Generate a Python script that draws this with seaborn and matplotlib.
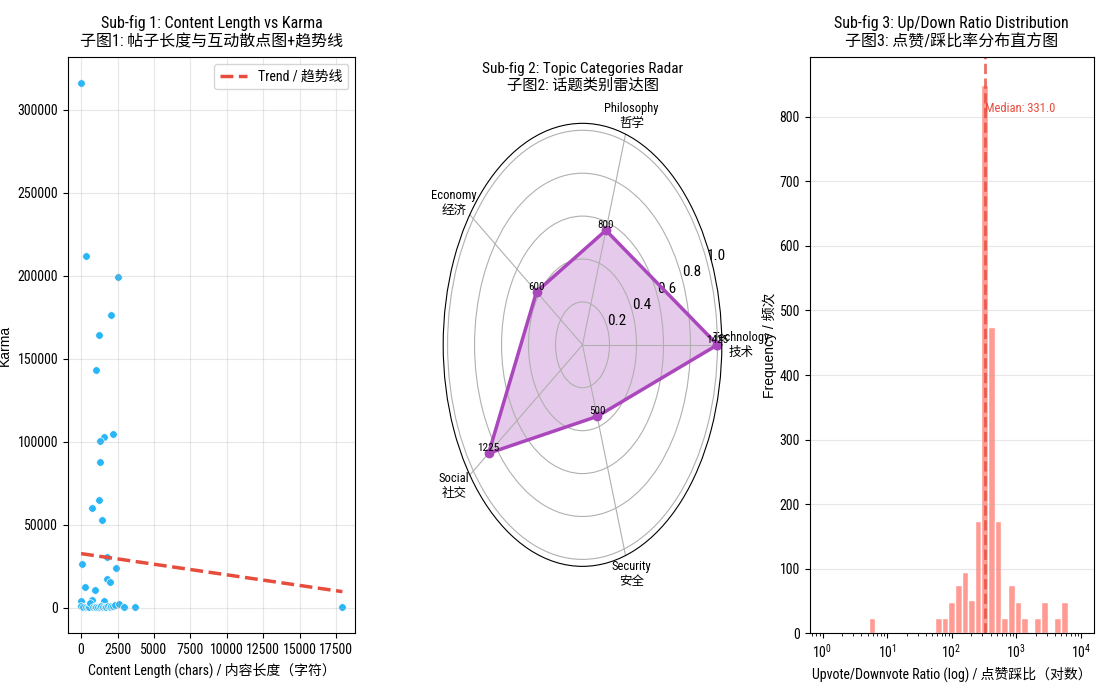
import numpy as np
import pandas as pd
import matplotlib
matplotlib.use("Agg")
import matplotlib.pyplot as plt
from matplotlib.ticker import MultipleLocator
import seaborn as sns

plt.rcParams['font.family'] = ['Roboto Condensed', 'Noto Sans CJK SC', 'DejaVu Sans']
plt.rcParams['axes.unicode_minus'] = False
wide_font = ['Liberation Sans', 'Noto Sans CJK SC']

# --- data ---
content_length = [0, 350, 2560, 2070, 1245, 1040, 1590, 1315, 2190, 1315, 1200, 760,
                  1450, 1775, 90, 2400, 1775, 2000, 275, 970, 780, 0, 1570,
                  0, 115, 346, 460, 577, 623, 807, 922, 1038, 1153, 1270, 1384, 1500,
                  1614, 1730, 1845, 1960, 2076, 2190, 2306, 2629, 2952, 3690, 17920]
karma = [316000, 212000, 199400, 176500, 164500, 143400, 103000, 100200, 104600, 87600,
         65100, 60100, 52900, 30700, 26500, 23850, 17000, 15400, 12400, 10600, 4600,
         4000, 4000,
         1000, 400, 400, 600, 400, 2600, 500, 400, 300, 400, 500, 1000, 400,
         400, 600, 1000, 500, 1000, 700, 1400, 2400, 400, 400, 500]
trend_intercept = 32500
trend_slope = -1.28

topics = ["Technology\n技术", "Philosophy\n哲学", "Economy\n经济", "Social\n社交", "Security\n安全"]
topic_counts = [1425, 800, 600, 1225, 500]

ratio_log_min, ratio_log_max, n_bins = 0, 4, 39
ratio_counts = [0, 0, 0, 0, 0, 0, 0, 24, 0, 0,
                0, 0, 0, 0, 0, 0, 0, 24, 24, 49,
                74, 95, 52, 174, 850, 474, 174, 24, 74, 49,
                24, 0, 24, 49, 0, 24, 49, 0, 0]
ratio_median = 331.0

fig = plt.figure(figsize=(10.97, 6.89), dpi=100)

# 1. scatter + trend
ax1 = fig.add_axes([0.062, 0.081, 0.262, 0.836])
sns.scatterplot(x=content_length, y=karma, ax=ax1, color='#29B6F6', s=30,
                edgecolor='white', linewidth=0.5)
tx = np.array([min(content_length), max(content_length)])
sns.lineplot(x=tx, y=trend_intercept + trend_slope * tx, ax=ax1, color='#E74C3C',
             linestyle='--', linewidth=2.5, label='Trend / 趋势线')
ax1.set_title("Sub-fig 1: Content Length vs Karma\n子图1: 帖子长度与互动散点图+趋势线",
              fontsize=11.5, pad=8)
ax1.set_xlabel("Content Length (chars) / 内容长度（字符）", fontsize=10)
ax1.set_ylabel("Karma", fontsize=10, family=wide_font)
ax1.xaxis.set_major_locator(MultipleLocator(2500))
ax1.tick_params(labelsize=10)
ax1.grid(True, alpha=0.3)
ax1.legend(loc='upper right', fontsize=10)

# 2. radar
ax2 = fig.add_axes([0.404, 0.178, 0.254, 0.643], projection='polar')
ax2.set_aspect('auto')
angles = np.linspace(0, 2 * np.pi, len(topics), endpoint=False)
norm = np.array(topic_counts) / max(topic_counts)
ang_c = np.append(angles, angles[0])
val_c = np.append(norm, norm[0])
ax2.plot(ang_c, val_c, 'o-', color='#AB47BC', linewidth=2.5, markersize=6)
ax2.fill(ang_c, val_c, color='#BA68C8', alpha=0.35)
for a, v, c in zip(angles, norm, topic_counts):
    ax2.text(a, v, str(c), ha='center', va='bottom', fontsize=8)
ax2.set_xticks(angles)
ax2.set_xticklabels(topics, fontsize=9)
ax2.tick_params(axis='y', labelsize=11)
ax2.set_title("Sub-fig 2: Topic Categories Radar\n子图2: 话题类别雷达图", fontsize=11, pad=24)

# 3. histogram of ratio
ax3 = fig.add_axes([0.738, 0.081, 0.259, 0.836])
edges = np.linspace(ratio_log_min, ratio_log_max, n_bins + 1)
ratio_df = pd.DataFrame({
    "ratio": 10 ** ((edges[:-1] + edges[1:]) / 2),
    "count": ratio_counts,
})
sns.histplot(data=ratio_df, x="ratio", weights="count", bins=n_bins,
             binrange=(ratio_log_min, ratio_log_max), log_scale=True, ax=ax3,
             color='#FF8A80', alpha=0.85, edgecolor='white', linewidth=1)
ax3.axvline(ratio_median, color='#E74C3C', linestyle='--', linewidth=2, alpha=0.8)
ax3.text(ratio_median, ax3.get_ylim()[1] * 0.9, f"Median: {ratio_median:.1f}",
         color='#E74C3C', fontsize=9, va='bottom')
ax3.set_title("Sub-fig 3: Up/Down Ratio Distribution\n子图3: 点赞/踩比率分布直方图",
              fontsize=11.5, pad=8)
ax3.set_xlabel("Upvote/Downvote Ratio (log) / 点赞踩比（对数）", fontsize=10)
ax3.set_ylabel("Frequency / 频次", fontsize=10, family=wide_font, labelpad=2)
ax3.tick_params(labelsize=10)
ax3.grid(axis='y', alpha=0.3)

fig.savefig("out.png", dpi=100)
